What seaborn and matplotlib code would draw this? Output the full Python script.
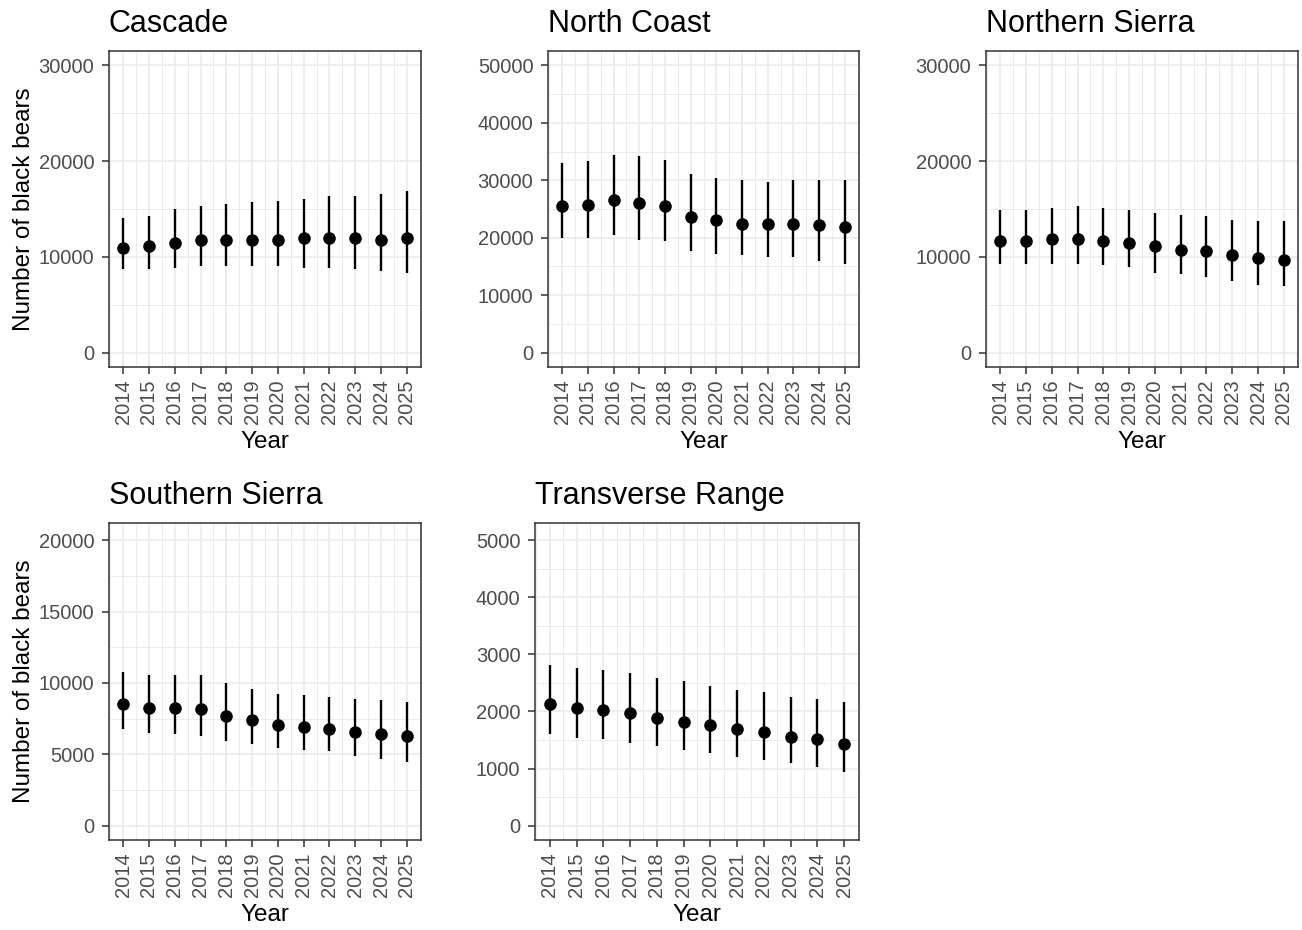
import numpy as np
import pandas as pd
import matplotlib
matplotlib.use('Agg')
import matplotlib.pyplot as plt
import seaborn as sns
from matplotlib.ticker import MultipleLocator, FixedLocator

# DADOS
years = [2014, 2015, 2016, 2017, 2018, 2019, 2020, 2021, 2022, 2023, 2024, 2025]
regions = ['Cascade', 'North Coast', 'Northern Sierra', 'Southern Sierra', 'Transverse Range']

cascade_mean = [10900, 11100, 11450, 11800, 11800, 11800, 11800, 12000, 12000, 12000, 11800, 12000]
cascade_lower = [8700, 8700, 8850, 9000, 9000, 9000, 9000, 8850, 8850, 8700, 8500, 8350]
cascade_upper = [14050, 14250, 14950, 15350, 15500, 15700, 15850, 16050, 16400, 16400, 16550, 16900]

north_coast_mean = [25450, 25750, 26550, 26000, 25450, 23600, 23050, 22400, 22400, 22400, 22150, 21850]
north_coast_lower = [19950, 19950, 20550, 19550, 19350, 17750, 17250, 16950, 16600, 16600, 16000, 15450]
north_coast_upper = [33000, 33300, 34450, 34150, 33600, 31150, 30350, 30000, 29700, 30000, 30000, 30000]

northern_sierra_mean = [11650, 11650, 11850, 11850, 11650, 11500, 11100, 10750, 10600, 10200, 9850, 9700]
northern_sierra_lower = [9300, 9300, 9300, 9300, 9100, 8900, 8350, 8200, 7850, 7450, 7100, 6950]
northern_sierra_upper = [14900, 14900, 15100, 15300, 15100, 14900, 14600, 14400, 14250, 13850, 13700, 13700]

southern_sierra_mean = [8500, 8250, 8250, 8150, 7650, 7400, 7050, 6900, 6800, 6550, 6450, 6300]
southern_sierra_lower = [6750, 6500, 6400, 6300, 5900, 5700, 5450, 5300, 5200, 4850, 4700, 4450]
southern_sierra_upper = [10800, 10550, 10550, 10550, 10000, 9600, 9250, 9150, 9000, 8900, 8800, 8650]

transverse_mean = [2125, 2060, 2030, 1975, 1880, 1820, 1765, 1700, 1640, 1550, 1520, 1430]
transverse_lower = [1600, 1540, 1510, 1450, 1390, 1330, 1275, 1210, 1150, 1090, 1030, 945]
transverse_upper = [2820, 2765, 2735, 2670, 2585, 2525, 2440, 2375, 2345, 2260, 2225, 2165]

# MONTANDO O DATAFRAME LONGO
means = [cascade_mean, north_coast_mean, northern_sierra_mean, southern_sierra_mean, transverse_mean]
lowers = [cascade_lower, north_coast_lower, northern_sierra_lower, southern_sierra_lower, transverse_lower]
uppers = [cascade_upper, north_coast_upper, northern_sierra_upper, southern_sierra_upper, transverse_upper]

df = pd.concat([
    pd.DataFrame({'region': r, 'year': years, 'mean': m, 'lower': lo, 'upper': up})
    for r, m, lo, up in zip(regions, means, lowers, uppers)
], ignore_index=True)

# LIMITES E PASSOS DO EIXO Y DE CADA PAINEL
y_top = {'Cascade': 30000, 'North Coast': 50000, 'Northern Sierra': 30000,
         'Southern Sierra': 20200, 'Transverse Range': 5050}
y_step = {'Cascade': 10000, 'North Coast': 10000, 'Northern Sierra': 10000,
          'Southern Sierra': 5000, 'Transverse Range': 1000}

# POSICAO DOS PAINEIS EM PIXELS (esq, topo, dir, base)
W, H = 1302, 930
panel_px = {'Cascade': (109, 51, 421, 367),
            'North Coast': (548, 51, 859, 367),
            'Northern Sierra': (986, 51, 1298, 367),
            'Southern Sierra': (109, 523, 421, 840),
            'Transverse Range': (535, 523, 859, 840)}

sns.set_theme(style='white')
plt.rcParams['font.family'] = ['Liberation Sans', 'DejaVu Sans']

fig = plt.figure(figsize=(W / 100, H / 100), dpi=100)
fig.patch.set_facecolor('white')

grid_col = '#EBEBEB'
dark = '#333333'

for region in regions:
    l, t, r, b = panel_px[region]
    ax = fig.add_axes([l / W, 1 - b / H, (r - l) / W, (b - t) / H])
    sub = df[df['region'] == region]

    ax.vlines(sub['year'], sub['lower'], sub['upper'], color='black', linewidth=1.7, zorder=3)
    sns.scatterplot(data=sub, x='year', y='mean', color='black', s=82,
                    edgecolor='black', linewidth=0, ax=ax, zorder=4)

    top = y_top[region]
    ax.set_xlim(2014 - 0.55, 2025 + 0.55)
    ax.set_ylim(-0.05 * top, 1.05 * top)

    step = y_step[region]
    ax.yaxis.set_major_locator(MultipleLocator(step))
    ax.yaxis.set_minor_locator(MultipleLocator(step / 2))
    ax.xaxis.set_major_locator(FixedLocator(years))
    ax.xaxis.set_minor_locator(FixedLocator([y + 0.5 for y in [2013] + years]))
    ax.set_xticklabels([str(y) for y in years], rotation=90)

    ax.set_axisbelow(True)
    ax.grid(which='major', color=grid_col, linewidth=1.2)
    ax.grid(which='minor', color=grid_col, linewidth=0.7)

    for sp in ax.spines.values():
        sp.set_color(dark)
        sp.set_linewidth(1.1)
        sp.set_visible(True)

    ax.tick_params(which='major', length=5, width=1.1, color=dark,
                   labelsize=14.5, labelcolor='#4D4D4D', pad=4, left=True, bottom=True)
    ax.tick_params(which='minor', length=0)
    ax.tick_params(axis='y', pad=5.5)

    ax.set_xlabel('Year', fontsize=17.5, color='black', labelpad=5)
    if region in ('Cascade', 'Southern Sierra'):
        ax.set_ylabel('Number of black bears', fontsize=17.5, color='black', labelpad=3)
    else:
        ax.set_ylabel('')

    ax.text(0, 1 + 19 / (b - t), region, transform=ax.transAxes, ha='left',
            va='baseline', fontsize=22, color='black')

fig.savefig('out.png', dpi=100, facecolor='white')
